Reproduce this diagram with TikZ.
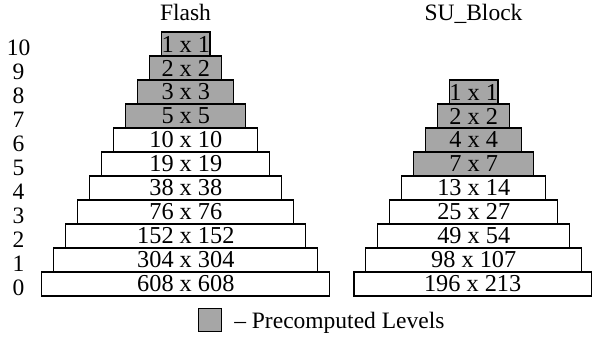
\documentclass[tikz,border=0pt]{standalone}
\usepackage{fontspec}
\setmainfont{Liberation Serif}
\definecolor{precomp}{RGB}{166,166,166}
\begin{document}
\begin{tikzpicture}[x=1pt,y=-1pt,
  every node/.style={font=\fontsize{23.5}{28}\selectfont, inner sep=0pt, outer sep=0pt},
  level/.style={draw=black, line width=1.3pt, rectangle, minimum height=24pt, fill=white, font=\fontsize{24.3}{28}\selectfont},
  pre/.style={level, fill=precomp},
  lbl/.style={anchor=base}]
\useasboundingbox (0,0) rectangle (592,337);
% titles
\node[lbl] (tflash) at (185.5,20.5) {Flash};
\node[lbl] (tsu) at (473.5,20.5) {SU\_Block};
% Flash pyramid
\foreach \k/\t in {0/608 x 608,1/304 x 304,2/152 x 152,3/76 x 76,4/38 x 38,5/19 x 19,6/10 x 10}{
  \node[level, minimum width={288-24*\k}] (f\k) at (185.8,{284-24*\k}) {\t};
}
\foreach \k/\t in {7/5 x 5,8/3 x 3,9/2 x 2,10/1 x 1}{
  \node[pre, minimum width={288-24*\k}] (f\k) at (185.8,{284-24*\k}) {\t};
}
% level numbers
\foreach \k in {0,...,10}{
  \node[lbl] (n\k) at (18.5,{295.5-24*\k}) {\k};
}
% SU_Block pyramid
\node[level, minimum width=237.3] (s0) at (472.65,284) {196 x 213};
\foreach \k/\t in {1/98 x 107,2/49 x 54,3/25 x 27,4/13 x 14}{
  \node[level, minimum width={240-24*\k}] (s\k) at (473.7,{284-24*\k}) {\t};
}
\foreach \k/\t in {5/7 x 7,6/4 x 4,7/2 x 2,8/1 x 1}{
  \node[pre, minimum width={240-24*\k}] (s\k) at (473.7,{284-24*\k}) {\t};
}
% legend
\node[pre, minimum width=23.4pt, minimum height=23.4pt] (legbox) at (210,320) {};
\node[anchor=base west] (legtext) at (234.3,328.3) {-- Precomputed Levels};
\end{tikzpicture}
\end{document}
